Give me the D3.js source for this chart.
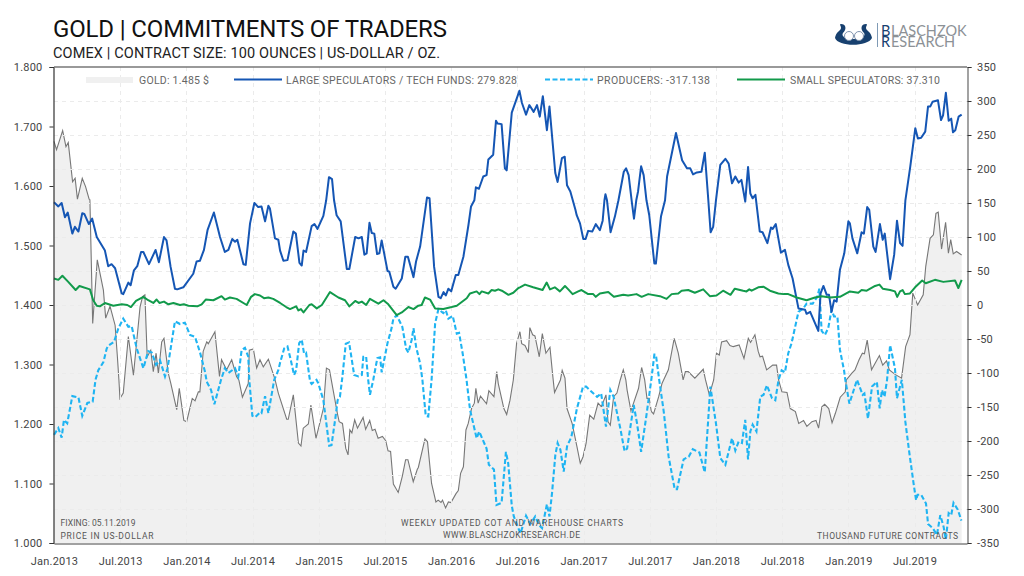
<!DOCTYPE html>
<html><head><meta charset="utf-8">
<script src="https://cdnjs.cloudflare.com/ajax/libs/d3/7.8.5/d3.min.js"></script>
<style>html,body{margin:0;padding:0;background:#fff;overflow:hidden}svg{display:block}text{font-family:Roboto,sans-serif}</style>
</head><body><svg id="c" width="1024" height="576"></svg>
<script>
// [week index since Jan.2013, value]
const goldSeries=[[0,1675],[1,1661],[3.4,1693],[4.7,1666],[5.6,1673],[7.3,1607],[8.3,1613],[9.2,1578],[11.1,1613],[12.4,1599],[13.8,1578],[14.1,1577],[15.2,1369],[17,1476],[19.4,1425],[20.3,1378],[22,1398],[24,1366],[24.9,1313],[25.5,1274],[25.9,1243],[27.2,1252],[29.2,1347],[31.2,1282],[33.8,1397],[34.8,1414],[35.7,1417],[36.6,1313],[38,1324],[39,1288],[40.1,1319],[41,1285],[42.3,1338],[43.2,1344],[44.9,1285],[45.9,1268],[48.2,1224],[49.2,1260],[51,1206],[52.1,1204],[54.3,1243],[55.4,1239],[56.7,1254],[57.3,1254],[58.6,1322],[60,1338],[60.6,1335],[63.2,1355],[65,1280],[65.8,1308],[67.8,1291],[69.8,1308],[71.7,1280],[72.6,1274],[74,1245],[76.3,1268],[76.7,1324],[78.3,1326],[79.6,1294],[80.9,1308],[82.2,1296],[84.2,1309],[86.8,1275],[88.1,1252],[91.4,1208],[92,1208],[94,1249],[96,1168],[97,1163],[97.9,1193],[99.9,1200],[100.9,1232],[102.9,1176],[105.8,1226],[107,1294],[108.2,1291],[111.3,1218],[112,1204],[113.3,1201],[114.6,1159],[115.5,1148],[116.2,1190],[117,1185],[118.1,1207],[119.2,1193],[121.4,1211],[122.4,1191],[124,1206],[125,1189],[126.1,1191],[127.3,1176],[129,1179],[130.3,1172],[131.2,1155],[132.2,1154],[133.3,1099],[135.2,1085],[136.8,1112],[138.1,1140],[139,1140],[141.1,1103],[142.7,1124],[143.1,1127],[145.7,1175],[146.7,1170],[148.3,1100],[150,1069],[150.9,1072],[152,1068],[152.6,1072],[153.8,1059],[154.9,1069],[155.9,1068],[157.9,1083],[158.8,1088],[159.7,1117],[160.8,1128],[161.8,1190],[162.7,1201],[164,1226],[165.1,1235],[165.7,1260],[166.6,1235],[167.5,1247],[169.9,1234],[170.8,1256],[172.8,1246],[173.9,1288],[174.5,1268],[176.7,1226],[177.8,1216],[179.1,1240],[180.4,1274],[181.7,1336],[183,1355],[183.7,1335],[185,1332],[186.3,1320],[186.9,1362],[188,1350],[188.9,1348],[190.6,1313],[191.8,1352],[193.2,1319],[194.8,1329],[195.8,1285],[196.6,1253],[198.9,1274],[199.6,1290],[200.7,1277],[201.5,1226],[203.5,1201],[205.4,1162],[206.7,1134],[207.8,1145],[209,1168],[210.4,1215],[212,1208],[213.7,1235],[215,1229],[216.8,1249],[217.6,1204],[218.5,1198],[219.8,1246],[221.1,1252],[222.4,1274],[223.6,1291],[224.6,1274],[225.1,1257],[226.6,1222],[229.6,1260],[230.8,1295],[232,1274],[232.9,1243],[233.8,1243],[234.6,1221],[235.5,1217],[237.5,1246],[238.8,1268],[241.3,1291],[243.6,1344],[245.2,1319],[247.1,1274],[248,1288],[249.1,1288],[251.7,1277],[255,1292],[255.9,1274],[257.4,1249],[259.1,1274],[260.2,1319],[261.3,1316],[262.2,1338],[264.2,1340],[265.5,1332],[266.8,1330],[269.1,1333],[271,1310],[272.7,1344],[273.6,1337],[275.3,1350],[276.6,1322],[277.3,1313],[278.3,1314],[279.9,1291],[282.3,1299],[283.8,1299],[284.6,1274],[285.9,1254],[287.9,1253],[289.2,1226],[291.2,1221],[292.5,1201],[294.4,1206],[295.7,1196],[297.7,1204],[299.3,1206],[300.3,1193],[301.6,1229],[302.7,1233],[304.3,1226],[305.6,1202],[306.9,1218],[308.8,1245],[310.8,1254],[311.2,1274],[313.3,1285],[314.6,1291],[316.2,1308],[317.5,1319],[318.3,1318],[319.4,1341],[321.1,1291],[324.2,1315],[325.5,1299],[327,1306],[328.1,1291],[330.5,1283],[332.9,1277],[334.5,1330],[336.2,1350],[337.3,1420],[339.2,1400],[341.4,1417],[342.4,1465],[344.1,1512],[345.4,1518],[346.4,1554],[347.3,1556],[348.6,1494],[350.2,1539],[351.3,1487],[352.2,1510],[353.2,1486],[354.5,1490],[356.5,1484]];
const largeSpecSeries=[[0,151],[1.7,145],[3,150],[4.3,129],[5.4,136],[7.2,105],[8.2,115],[9.6,108],[11.1,135],[11.9,134],[13.7,119],[15,127],[16.8,100],[20,80],[21.3,57],[22.6,60],[24,54],[26.6,17],[27.2,16],[29.2,33],[30.1,29],[31.4,51],[32.7,57],[34.2,78],[35.1,78],[37.3,60],[39.9,81],[41.2,63],[43.2,100],[44.2,95],[45.8,56],[47.5,24],[48.4,23],[50.8,26],[54.7,46],[56,64],[57.3,65],[58.9,81],[60.3,110],[62.8,136],[65.2,100],[67.1,78],[68.5,81],[70,97],[71.1,93],[72,96],[74.4,60],[75.3,59],[77,120],[78.7,150],[80.2,144],[81.5,145],[82.9,123],[84.2,146],[84.8,142],[86.8,98],[88.1,96],[88.8,80],[90.1,65],[91.7,66],[94,108],[95,105],[96.4,62],[97.3,58],[98,80],[99,78],[101.2,116],[102.3,119],[103.5,112],[105.8,131],[106.9,154],[108,188],[109.2,185],[110,154],[111,132],[112.6,123],[115,53],[116,53],[118.3,100],[119.6,98],[120.9,100],[121.9,74],[122.8,76],[123.9,121],[124.8,106],[125.8,105],[126.9,75],[127.8,76],[128.7,95],[131,50],[131.7,49],[133.3,27],[134.2,24],[136.6,39],[138,71],[139,71],[141.2,41],[142.2,64],[143.8,86],[146.5,158],[147.5,157],[149.3,56],[151,12],[151.9,10],[153,19],[153.9,14],[154.9,24],[156,20],[157.8,44],[158.8,44],[160.8,71],[162.8,118],[163.8,145],[165.1,154],[165.7,173],[166.9,171],[168.6,189],[169.9,191],[170.6,214],[172.5,221],[173.6,271],[174.2,267],[175.8,266],[177.1,201],[177.8,198],[179.8,283],[182.8,315],[183.8,297],[185.4,280],[186.7,294],[188.4,284],[189.7,294],[190.8,277],[192,307],[193.6,257],[194.6,292],[196.9,194],[197.8,181],[199.5,216],[200.6,218],[201.5,176],[202.8,167],[204.8,140],[205.3,132],[206.6,120],[207.9,97],[208.8,97],[209.8,109],[211.4,108],[212.8,119],[214.4,110],[215.5,124],[216.2,154],[216.6,163],[217.2,154],[218.6,107],[220.3,130],[221.7,154],[223.8,196],[224.7,201],[225.7,191],[227,150],[227.8,127],[228.7,154],[229.4,167],[230.6,204],[231.6,191],[232.7,154],[233.8,132],[235.8,61],[236.4,61],[238.4,130],[240,154],[240.8,189],[244.3,253],[246.7,213],[248.6,201],[249.9,201],[251,192],[252.5,195],[254.3,196],[255.6,224],[257,154],[257.9,107],[258.9,115],[260,154],[261.7,206],[263.7,215],[265,208],[266.3,179],[267.6,189],[268.9,180],[270,184],[271.5,152],[272.6,203],[273.5,164],[274.4,157],[275.5,162],[277.2,108],[278.3,107],[280.2,91],[281.6,114],[282.3,112],[283.5,119],[285.5,77],[287.1,81],[288.4,59],[290.1,39],[292.4,-5],[295,-7],[295.6,-13],[297,-10],[300.2,-38],[301.1,17],[302.2,28],[303.5,15],[304.4,15],[305.4,-10],[306.4,7],[307.4,5],[308.7,52],[310.4,76],[312,123],[312.6,120],[313.6,98],[315.5,76],[317.2,107],[318.1,105],[319.4,144],[320.2,140],[321.8,86],[322.7,78],[324.4,119],[325.5,96],[326.3,105],[328.4,38],[330,74],[331.1,124],[332.3,91],[333.3,87],[334.4,154],[336.3,203],[338.3,260],[339.3,245],[340.6,246],[342.2,255],[343.3,292],[344.2,292],[345.1,299],[347.2,301],[348.4,272],[349.2,279],[350.3,312],[351.4,271],[352.4,274],[353.1,254],[354,257],[355.3,277],[356.5,280]];
const producerSeries=[[0,-191],[1.7,-181],[3,-195],[3.9,-169],[5.2,-174],[7.2,-134],[9.6,-136],[11.1,-163],[13.1,-144],[15.2,-142],[16.3,-110],[17.4,-96],[19.4,-84],[20.7,-64],[21.3,-60],[23.6,-54],[25.3,-34],[27.2,-20],[29.2,-32],[30.5,-31],[32.5,-64],[35.1,-93],[37,-68],[38.4,-70],[40.1,-88],[41.6,-81],[43.6,-105],[44.6,-93],[47.5,-24],[49.5,-28],[51.4,-26],[53.4,-44],[55.4,-47],[57.3,-69],[59.3,-98],[60,-113],[61.7,-125],[63,-146],[65.6,-110],[67.1,-93],[68.5,-100],[71.1,-93],[72.4,-105],[73.7,-66],[75,-63],[76.3,-76],[76.7,-110],[77.9,-163],[79,-165],[80.9,-158],[81.5,-159],[82.9,-134],[84.2,-159],[86.5,-110],[88.1,-96],[88.8,-85],[90.4,-64],[91.7,-61],[92.7,-76],[94.3,-103],[95.1,-96],[96.3,-56],[97.3,-51],[98.2,-71],[99,-70],[100.6,-113],[101.2,-116],[103.1,-110],[103.8,-115],[105.8,-140],[108.1,-207],[109,-206],[110.6,-164],[111.4,-140],[112.3,-135],[113.2,-108],[114.6,-57],[115.9,-55],[117.9,-103],[119.6,-105],[120.9,-103],[121.5,-76],[122.6,-76],[123.4,-110],[124.1,-132],[125.4,-110],[127,-78],[128.1,-77],[128.7,-99],[131,-56],[132.6,-34],[133.3,-20],[134.6,-15],[136.8,-32],[138.3,-64],[139.2,-70],[140.5,-51],[141.2,-34],[142.2,-61],[143.8,-86],[144.7,-110],[146,-163],[147,-164],[148.3,-110],[149.7,-27],[151,-6],[152.9,-12],[153.9,-8],[154.9,-20],[156.6,-16],[158.2,-42],[159.1,-41],[160.5,-71],[162,-109],[163.4,-154],[166,-196],[167,-186],[169.9,-211],[170.8,-235],[172.8,-242],[173.8,-294],[175.8,-291],[177.5,-216],[178.4,-233],[179.8,-295],[180.6,-311],[183.2,-336],[185.4,-310],[187.1,-322],[189,-311],[190.6,-324],[191.7,-328],[193.6,-293],[194.6,-311],[195.6,-277],[196.9,-221],[197.8,-203],[198.9,-213],[200.2,-245],[201.5,-208],[203.2,-194],[205.4,-152],[207.8,-120],[209,-120],[210.7,-126],[213.3,-135],[214.9,-130],[216.8,-179],[218.5,-125],[219.8,-135],[222.4,-181],[224.1,-215],[225.1,-211],[227.7,-147],[229,-174],[230.6,-216],[232.7,-162],[234.6,-110],[235.8,-73],[236.4,-73],[237.7,-110],[239.5,-157],[241.4,-223],[243.8,-271],[244.7,-271],[247.3,-227],[249.3,-223],[250.9,-212],[253.5,-217],[255.6,-246],[257.8,-120],[260,-174],[261.7,-225],[263.7,-235],[266.3,-196],[267.6,-214],[268.9,-201],[270.2,-203],[271.5,-169],[272.6,-227],[273.5,-186],[274.4,-176],[275.9,-186],[277.4,-135],[278.7,-132],[280,-118],[282,-137],[283.3,-140],[284.6,-110],[285.8,-96],[287.1,-99],[288.4,-71],[289.7,-56],[292.4,-10],[294.3,-5],[295.6,2],[298,2],[299.8,12],[300.6,24],[301.5,-38],[302.8,-44],[304.1,-34],[305.4,-7],[306.4,-17],[307.7,-17],[308.7,-66],[310.3,-96],[310.8,-110],[312.4,-145],[315.4,-110],[317.6,-132],[318.3,-130],[319.7,-167],[321.3,-120],[323.2,-113],[324.3,-152],[325.2,-125],[326.2,-135],[327.2,-110],[328.4,-59],[330.3,-93],[331.1,-137],[333,-110],[334.4,-172],[335.9,-216],[337.6,-262],[338.6,-287],[339.2,-279],[340.6,-279],[342.5,-292],[343.3,-322],[345.1,-328],[346.8,-338],[348.1,-309],[349.4,-326],[350.3,-345],[351.4,-306],[352.4,-309],[353.3,-291],[355,-301],[356.4,-317]];
const smallSpecSeries=[[0,39],[1.7,37],[3.3,43],[5.6,34],[8.5,22],[10,28],[14.1,23],[15.4,7],[16.8,-1],[18,-2],[20,3],[23.3,-1],[26.6,1],[28.8,0],[30.2,-3],[32.2,6],[35.1,12],[37,7],[39,3],[40.3,8],[41.4,3],[43.2,5],[44.9,1],[46.9,3],[49.5,0],[51,1],[52.8,-1],[56.3,-2],[58,1],[59.6,8],[62.6,7],[65.8,13],[67.1,8],[69.1,11],[71.7,9],[75.7,0],[77.4,12],[78.9,16],[80.9,14],[82.5,10],[84.2,11],[86.1,9],[88.8,3],[91.2,-3],[92.7,-6],[95.1,-2],[96,-8],[97,-6],[98,-11],[100.3,0],[101.2,1],[103.2,-5],[105.2,0],[108.4,19],[111.7,11],[114.3,7],[116,-2],[118.3,6],[119.6,3],[120.9,5],[122.6,0],[124.1,9],[127.4,2],[129.4,7],[131.3,1],[134.6,-15],[136.6,-11],[139.2,-3],[141.2,-6],[143.1,-1],[144.4,0],[145.7,11],[147.7,8],[149.7,-5],[152.9,-6],[156.2,-3],[158.2,-1],[162.1,10],[163.4,17],[166,20],[167.1,16],[168,20],[170.6,17],[171.9,22],[173.2,21],[174.5,23],[175.9,21],[178.5,15],[180.4,18],[182.4,25],[183,26],[185,30],[188.2,26],[191.9,22],[193.5,33],[194.8,23],[196.7,26],[198.7,20],[200.7,28],[202,23],[203.7,16],[205.9,20],[207.2,22],[209.8,16],[211.8,16],[212.8,12],[214.4,17],[217.7,19],[219.9,12],[223.6,15],[225.5,14],[228.8,16],[230.8,12],[233.4,16],[238,13],[240.6,9],[242.6,16],[245.2,17],[246.5,21],[249.1,22],[251.7,18],[255,23],[257.6,13],[260.2,14],[262.8,21],[265.7,15],[267.4,24],[270.7,21],[272,20],[273.1,23],[274,21],[276.6,26],[278.6,27],[281.2,21],[284.5,17],[286.5,16],[288.4,16],[291.7,11],[295.6,7],[298.9,11],[301.5,13],[304.8,11],[308.7,12],[312.6,20],[315.9,18],[317.2,22],[319.2,21],[322.5,28],[324.2,30],[325.5,24],[328.4,22],[330.3,20],[331.2,12],[332.3,20],[333.3,22],[334.2,16],[336.2,17],[338.2,26],[341,36],[342.4,32],[346,37],[349.3,34],[353.9,36],[355.2,25],[356.5,37]];
const xTickWeeks=[0,26,52,78,104,130,156,182,208,234,260,286,312,338];
const xTickLabels=["Jan.2013","Jul.2013","Jan.2014","Jul.2014","Jan.2015","Jul.2015","Jan.2016","Jul.2016","Jan.2017","Jul.2017","Jan.2018","Jul.2018","Jan.2019","Jul.2019"];
const leftTicks=[1000,1100,1200,1300,1400,1500,1600,1700,1800];
const rightTicks=[-350,-300,-250,-200,-150,-100,-50,0,50,100,150,200,250,300,350];
const legendLabels=["GOLD: 1.485 $","LARGE SPECULATORS / TECH FUNDS: 279.828","PRODUCERS: -317.138","SMALL SPECULATORS: 37.310"];

const svg=d3.select("#c");
const L=54,R=967,T=67,B=543;
const CYAN="#1fb4f2",BLUE="#1556b4",GREEN="#129a4b",DASH="5 2.5";
const x=d3.scaleLinear().domain([0,358.6]).range([L,R]);
const yL=d3.scaleLinear().domain([1000,1800]).range([B,T]);
const yR=d3.scaleLinear().domain([-350,350]).range([B,T]);
const dot=d3.formatLocale({decimal:",",thousands:".",grouping:[3],currency:["","$"]}).format(",");
const byWeek=(a,b)=>a[0]-b[0];
[goldSeries,largeSpecSeries,producerSeries,smallSpecSeries].forEach(s=>s.sort(byWeek));

svg.append("path").datum(goldSeries).attr("fill","#f0f0f0")
  .attr("d",d3.area().x(d=>x(d[0])).y0(B).y1(d=>yL(d[1])));
svg.append("path").datum(goldSeries).attr("fill","none").attr("stroke","#777").attr("stroke-width",1.1)
  .attr("d",d3.line().x(d=>x(d[0])).y(d=>yL(d[1])));

const grid=svg.append("g").attr("stroke","#ebebeb").attr("stroke-width",1).attr("stroke-dasharray","4 4");
grid.selectAll("line.h").data(rightTicks.slice(1,-1)).join("line").attr("class","h").attr("x1",L).attr("x2",R)
  .attr("y1",d=>Math.round(yR(d))+.5).attr("y2",d=>Math.round(yR(d))+.5);
grid.selectAll("line.v").data(xTickWeeks.slice(1)).join("line").attr("class","v").attr("y1",T).attr("y2",B)
  .attr("x1",d=>Math.round(x(d))+.5).attr("x2",d=>Math.round(x(d))+.5);

const ln=d3.line().x(d=>x(d[0])).y(d=>yR(d[1]));
svg.append("path").datum(producerSeries).attr("fill","none").attr("stroke",CYAN).attr("stroke-width",2.1).attr("stroke-dasharray",DASH).attr("d",ln);
svg.append("path").datum(largeSpecSeries).attr("fill","none").attr("stroke",BLUE).attr("stroke-width",2).attr("stroke-linejoin","round").attr("d",ln);
svg.append("path").datum(smallSpecSeries).attr("fill","none").attr("stroke",GREEN).attr("stroke-width",2).attr("stroke-linejoin","round").attr("d",ln);

// frame and axes
const axL=svg.append("g").attr("transform",`translate(${L-.5},0)`).call(d3.axisLeft(yL).tickValues(leftTicks).tickFormat(dot).tickSizeOuter(0).tickSize(4));
const axR=svg.append("g").attr("transform",`translate(${R+.5},0)`).call(d3.axisRight(yR).tickValues(rightTicks).tickSizeOuter(0).tickSize(4).tickFormat(d=>d));
const axB=svg.append("g").attr("transform",`translate(0,${B+.5})`).call(d3.axisBottom(x).tickValues(xTickWeeks).tickFormat((d,i)=>xTickLabels[i]).tickSize(0).tickSizeOuter(0));
[axL,axR,axB].forEach(a=>{a.selectAll("text").attr("font-size",11).attr("fill","#444").style("font-family","Roboto,sans-serif").style("letter-spacing","0.2px");});
axL.select(".domain").attr("stroke","#333").attr("stroke-width",1.2);
axL.selectAll(".tick line").attr("stroke","#333");
axL.selectAll("text").attr("x",-11);
axR.select(".domain").attr("stroke","#666").attr("stroke-width",1.2);
axR.selectAll(".tick line").attr("stroke","#333");
axR.selectAll("text").attr("x",9.5);
axB.select(".domain").attr("stroke","#444").attr("stroke-width",1.2);
axB.selectAll("text").attr("y",14);
svg.append("line").attr("x1",L).attr("x2",R).attr("y1",T).attr("y2",T).attr("stroke","#777").attr("stroke-width",1.6);

// titles
function t(s,px,py,size,fill,len){
  const e=svg.append("text").attr("x",px).attr("y",py).attr("font-size",size).attr("fill",fill).text(s);
  if(len)e.attr("textLength",len).attr("lengthAdjust","spacing");
  return e;
}
t("GOLD | COMMITMENTS OF TRADERS",53,37,24,"#111",394);
t("COMEX | CONTRACT SIZE: 100 OUNCES | US-DOLLAR / OZ.",53,58,14.5,"#222",387);

// legend
svg.append("rect").attr("x",86).attr("y",77).attr("width",47).attr("height",6).attr("fill","#f0f0f0");
t(legendLabels[0],139,84,10.5,"#666",70);
svg.append("line").attr("x1",234).attr("x2",282).attr("y1",79.5).attr("y2",79.5).attr("stroke",BLUE).attr("stroke-width",2);
t(legendLabels[1],286,84,10.5,"#666",231);
svg.append("line").attr("x1",545).attr("x2",593).attr("y1",79.5).attr("y2",79.5).attr("stroke",CYAN).attr("stroke-width",2).attr("stroke-dasharray",DASH);
t(legendLabels[2],597,84,10.5,"#666",113);
svg.append("line").attr("x1",737).attr("x2",785).attr("y1",79.5).attr("y2",79.5).attr("stroke",GREEN).attr("stroke-width",2);
t(legendLabels[3],790,84,10.5,"#666",150);

// notes
const note="#555";
t("FIXING: 05.11.2019",60.5,526,8.5,note,75);
t("PRICE IN US-DOLLAR",60.5,539,8.5,note,93);
t("WEEKLY UPDATED COT AND WAREHOUSE CHARTS",401,526,8.5,note,222);
t("WWW.BLASCHZOKRESEARCH.DE",443,538,8.5,note,137);
t("THOUSAND FUTURE CONTRACTS",817,539,8.5,note,141);

// logo
const logo=svg.append("g").attr("fill","#17406f");
logo.append("path").attr("d","M835 38 C838 47 868 47 872 38 C871 33 869 32 867 30 C864 27 869 24 866 24 C861 24 860 29 864 33 C866 36 862 39 853.5 39 C845 39 841 36 843 33 C847 29 846 24 841 24 C838 24 843 27 840 30 C838 32 836 33 835 38Z");
logo.append("circle").attr("cx",849).attr("cy",36).attr("r",4.5).attr("fill","#fff").attr("stroke","#7f93ad");
logo.append("circle").attr("cx",859).attr("cy",36).attr("r",4.5).attr("fill","#fff").attr("stroke","#7f93ad");
svg.append("line").attr("x1",877.5).attr("x2",877.5).attr("y1",23).attr("y2",47).attr("stroke","#7f9ab5");
const logoText=svg.append("text").attr("font-size",14.5).attr("fill","#8c9196").style("font-family","Lato,sans-serif");
logoText.append("tspan").attr("x",881).attr("y",35.5).attr("fill","#17406f").text("B");
logoText.append("tspan").attr("x",891).attr("y",35.5).text("LASCHZOK");
logoText.append("tspan").attr("x",881).attr("y",47).attr("fill","#17406f").text("R");
logoText.append("tspan").attr("x",891).attr("y",47).text("ESEARCH");
</script></body></html>
